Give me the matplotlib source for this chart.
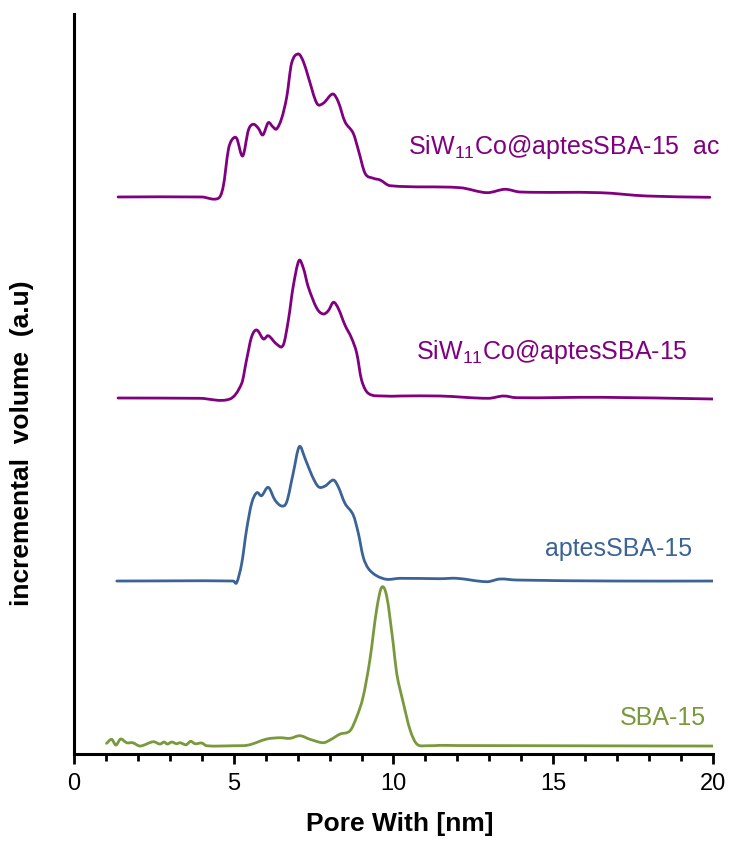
import matplotlib
matplotlib.use("Agg")
import matplotlib.pyplot as plt
from matplotlib.path import Path
from matplotlib.patches import PathPatch
from matplotlib.ticker import MultipleLocator

plt.rcParams["font.family"] = ["Liberation Sans", "DejaVu Sans"]
plt.rcParams["mathtext.default"] = "regular"

PURPLE = "#800080"
BLUE = "#3b6397"
GREEN = "#7a983c"

# SBA-15
sba_x = [1.02, 1.18, 1.31, 1.46, 1.65, 1.84, 2.07, 2.48, 2.69, 2.82, 2.92, 3.06, 3.21, 3.32,
         3.51, 3.65, 3.79, 4.0, 4.15, 4.99, 5.46, 6.03, 6.45, 6.76, 7.07, 7.39, 7.8, 8.01,
         8.33, 8.64, 8.85, 9.05, 9.26, 9.47, 9.63, 9.79, 9.99, 10.1, 10.31, 10.52, 10.73,
         11.04, 11.46, 12.0, 20.0]
sba_y = [2.7, 6.7, 1, 7, 3.3, 3.3, 0, 4.3, 2, 4, 2, 4, 2.3, 3.3,
         1.3, 4.7, 2.3, 3, 0.3, 0.3, 1, 7, 8.3, 7.7, 10.3, 6.7, 3.3, 6,
         12, 15.3, 29.3, 49.3, 86, 136, 158.7, 149.3, 102.7, 72.7, 42.7, 16, 2,
         0.3, 0.7, 0.5, 0]

# aptesSBA-15
aptes_x = [1.34, 4.99, 5.09, 5.25, 5.40, 5.56, 5.72, 5.87, 6.08, 6.29, 6.5, 6.66, 6.86, 7.05,
           7.23, 7.44, 7.65, 7.86, 8.12, 8.27, 8.48, 8.74, 8.9, 9.05, 9.21, 9.47, 9.79, 10.2,
           11.46, 11.98, 12.92, 13.33, 13.85, 16.87, 20.0]
aptes_y = [-1, -1, -2.7, 16.7, 50, 76.7, 87.3, 84.3, 92.7, 80, 74, 78.3, 106.7, 133.3,
           121.7, 105, 93.3, 94, 100, 93.3, 76.7, 65, 46.7, 23.3, 11.7, 4.3, 0.7, 1.7,
           1.3, 1.7, -1.7, 1, 0, -1, -1]

# SiW11Co@aptesSBA-15
siw_x = [1.38, 3.94, 4.88, 5.25, 5.40, 5.56, 5.72, 5.93, 6.08, 6.34, 6.55, 6.71, 6.86, 7.04,
         7.18, 7.33, 7.6, 7.8, 7.96, 8.12, 8.27, 8.48, 8.69, 8.85, 9.0, 9.21, 9.68, 10.2,
         11.46, 12.97, 13.44, 13.85, 16.5, 20.0]
siw_y = [0, -0.3, -1, 14.7, 38, 61.3, 68, 59, 62.3, 54, 53, 78, 111.3, 137.3,
         129.7, 111.3, 89.7, 84, 87.3, 95.7, 89.7, 73, 59.7, 44.7, 18, 4.7, 2, 2,
         2, -0.3, 2, 0.3, 0.7, -1]

# SiW11Co@aptesSBA-15 ac
ac_x = [1.38, 4.0, 4.52, 4.67, 4.83, 4.94, 5.09, 5.28, 5.46, 5.61, 5.77, 5.91, 6.08, 6.22,
        6.34, 6.5, 6.66, 6.81, 7.02, 7.18, 7.33, 7.6, 7.8, 8.1, 8.27, 8.48, 8.74, 8.9,
        9.11, 9.37, 9.58, 9.89, 12.08, 12.92, 13.49, 13.96, 16.46, 17.92, 19.9]
ac_y = [0, 0, -1.3, 10.3, 47, 57, 58.7, 41, 67, 72.7, 68.7, 62, 74.3, 70.3,
        68, 78.7, 100.3, 133.7, 143, 135.3, 120.3, 93.7, 93.7, 103, 95.3, 75.3, 63.7, 47,
        23.7, 18.7, 17, 11.3, 9.3, 4.3, 7.7, 5, 4.3, 1, -0.3]

offsets = [8, 174, 356, 557]


def smooth_path(xs, ys):
    # bezier path through the points, like a spreadsheet "smoothed line"
    n = len(xs)
    slopes = []
    for i in range(n):
        a, b = max(i - 1, 0), min(i + 1, n - 1)
        slopes.append((ys[b] - ys[a]) / (xs[b] - xs[a]))
    verts = [(xs[0], ys[0])]
    codes = [Path.MOVETO]
    for i in range(n - 1):
        h = xs[i + 1] - xs[i]
        verts += [(xs[i] + h / 3, ys[i] + slopes[i] * h / 3),
                  (xs[i + 1] - h / 3, ys[i + 1] - slopes[i + 1] * h / 3),
                  (xs[i + 1], ys[i + 1])]
        codes += [Path.CURVE4] * 3
    return Path(verts, codes)


fig = plt.figure(figsize=(7.34, 8.41), dpi=100)
ax = fig.add_axes([0.1008, 0.1034, 0.8706, 0.88])

series = [(sba_x, sba_y, GREEN), (aptes_x, aptes_y, BLUE),
          (siw_x, siw_y, PURPLE), (ac_x, ac_y, PURPLE)]
for (xs, ys, c), off in zip(series, offsets):
    p = smooth_path(xs, [v + off for v in ys])
    ax.add_patch(PathPatch(p, facecolor="none", edgecolor=c, linewidth=2.0,
                           joinstyle="round", capstyle="round"))

ax.text(19.78, 36, "SBA-15", color=GREEN, fontsize=18, ha="right", va="center")
ax.text(19.34, 205, "aptesSBA-15", color=BLUE, fontsize=18, ha="right", va="center")
ax.text(19.22, 402, "SiW$_{11}$Co@aptesSBA-15", color=PURPLE, fontsize=18,
        ha="right", va="center")
ax.text(10.45, 607, "SiW$_{11}$Co@aptesSBA-15  ac", color=PURPLE, fontsize=18,
        ha="left", va="center")

ax.set_xlim(0, 20)
ax.set_ylim(0, 740)
ax.xaxis.set_major_locator(MultipleLocator(5))
ax.xaxis.set_minor_locator(MultipleLocator(1))
ax.set_yticks([])
ax.tick_params(axis="x", which="major", direction="out", length=7, width=2,
               labelsize=17, pad=7)
ax.tick_params(axis="x", which="minor", direction="out", length=5, width=2)

for s in ["top", "right"]:
    ax.spines[s].set_visible(False)
for s in ["left", "bottom"]:
    ax.spines[s].set_linewidth(2.2)

ax.set_xlabel("Pore With [nm]", fontsize=19, fontweight="bold")
ax.xaxis.set_label_coords(0.51, -0.078)
ax.set_ylabel("incremental  volume  (a.u)", fontsize=19, fontweight="bold")
ax.yaxis.set_label_coords(-0.062, 0.42)

fig.savefig("out.png", dpi=100)
